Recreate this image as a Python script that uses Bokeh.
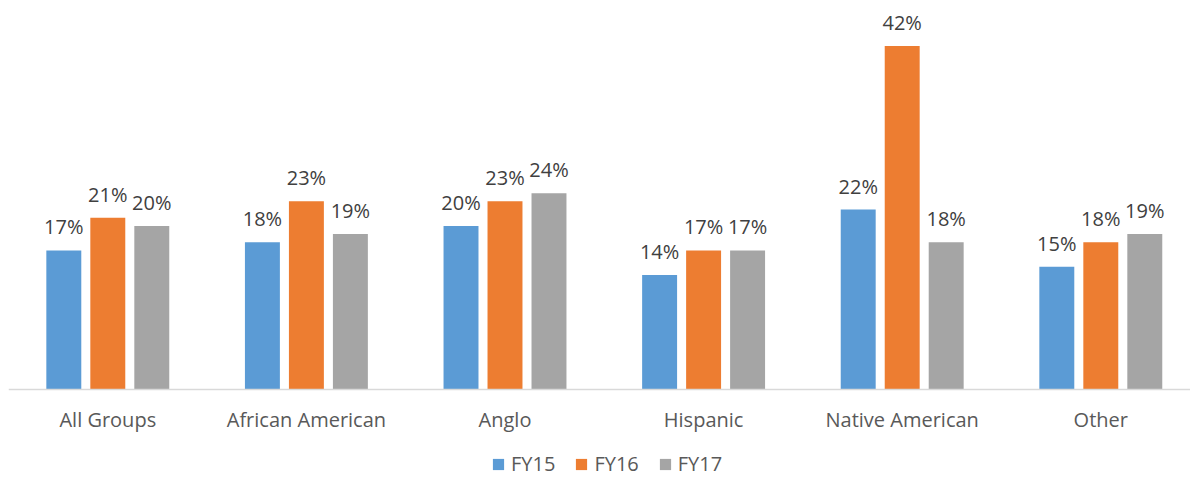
from bokeh.plotting import figure
from bokeh.models import ColumnDataSource, FixedTicker, Legend, LegendItem, Range1d
from bokeh.core.properties import value
from bokeh.embed import file_html
from bokeh.resources import INLINE

categories = ["All Groups", "African American", "Anglo", "Hispanic", "Native American", "Other"]
series = ["FY15", "FY16", "FY17"]
fy15 = [17, 18, 20, 14, 22, 15]
fy16 = [21, 23, 23, 17, 42, 18]
fy17 = [20, 19, 24, 17, 18, 19]
colors = ["#5B9BD5", "#ED7D31", "#A5A5A5"]

FONT = "Open Sans"
PX_PER_UNIT = 8.18

p = figure(width=1190, height=477, output_backend="svg", toolbar_location=None,
           x_range=Range1d(-0.5, -0.5 + 1182 / 198.6),
           y_range=Range1d(-88 / PX_PER_UNIT, 389 / PX_PER_UNIT),
           min_border_left=8, min_border_right=0, min_border_top=0, min_border_bottom=0)
p.outline_line_color = None
p.background_fill_color = "white"
p.border_fill_color = "white"
p.grid.visible = False
p.yaxis.visible = False

xa = p.xaxis[0]
xa.fixed_location = 0
xa.ticker = FixedTicker(ticks=list(range(len(categories))))
xa.major_label_overrides = {i: c for i, c in enumerate(categories)}
xa.major_tick_line_color = None
xa.minor_tick_line_color = None
xa.major_tick_out = 0
xa.major_tick_in = 0
xa.axis_line_color = "#D9D9D9"
xa.axis_line_width = 1.5
xa.major_label_text_font = FONT
xa.major_label_text_font_size = "20px"
xa.major_label_text_color = "#595959"
xa.major_label_standoff = 16

offsets = [-0.2215, 0.0, 0.2215]
bw = 0.176
items = []
for k, (name, vals) in enumerate(zip(series, [fy15, fy16, fy17])):
    xs = [i + offsets[k] for i in range(len(categories))]
    src = ColumnDataSource(dict(x=xs, top=vals, lab=[f"{v}%" for v in vals]))
    r = p.vbar(x="x", top="top", width=bw, bottom=0, source=src, color=colors[k], line_color=None)
    p.text(x="x", y="top", text="lab", source=src, text_align="center", text_baseline="bottom",
           y_offset=-10, text_font=value(FONT), text_font_size="20px", text_color="#404040")
    items.append(LegendItem(label=name, renderers=[r]))

legend = Legend(items=items, orientation="horizontal", location=(483, 0),
                glyph_width=14, glyph_height=14, label_standoff=6, spacing=19,
                padding=0, margin=0, border_line_color=None, background_fill_alpha=0,
                label_text_font=FONT, label_text_font_size="20px", label_text_color="#595959")
p.add_layout(legend)

open("out.html", "w").write(file_html(p, INLINE))
